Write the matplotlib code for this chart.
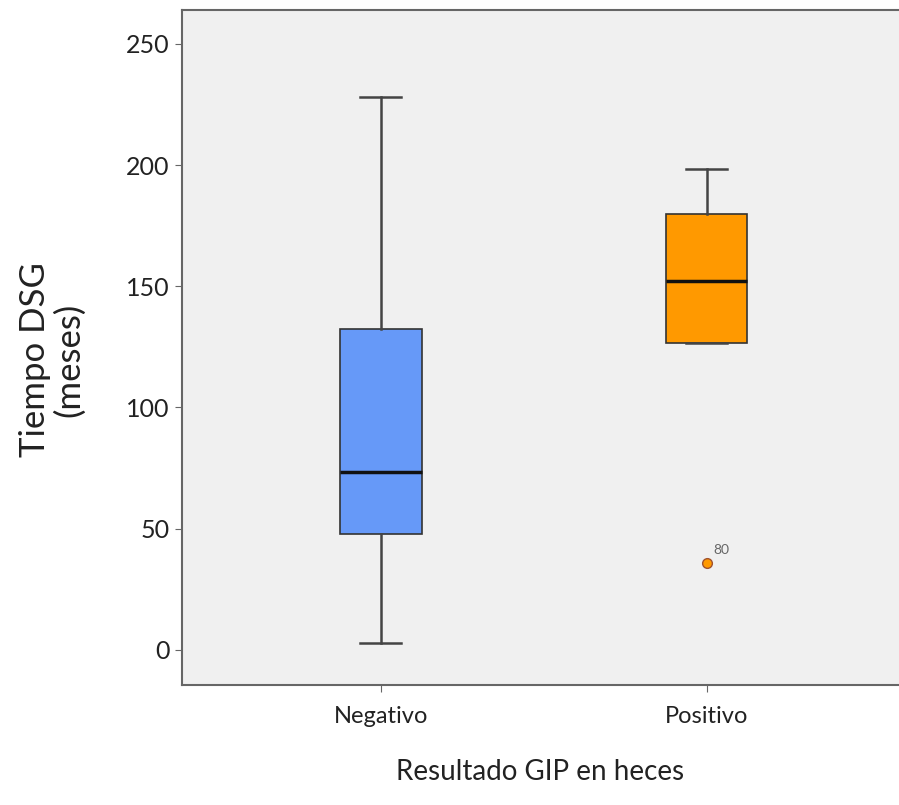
import matplotlib
matplotlib.use("Agg")
import matplotlib.pyplot as plt

categories = ["Negativo", "Positivo"]
whislo = [3, 126.5]
q1 = [48, 126.5]
med = [73.5, 152]
q3 = [132.5, 180]
whishi = [228, 198.5]
fliers = [[], [36]]
flier_labels = [[], ["80"]]
colors = ["#6699F8", "#FF9900"]
yticks = [0, 50, 100, 150, 200, 250]

plt.rcParams['font.family'] = ['Lato', 'DejaVu Sans']

fig = plt.figure(figsize=(8.99, 8.05), dpi=100)
ax = fig.add_axes([182/899, 1-685/805, 1-182/899, (685-10)/805])
ax.set_facecolor("#F0F0F0")

stats = []
for i, c in enumerate(categories):
    stats.append(dict(label=c, whislo=whislo[i], q1=q1[i], med=med[i], q3=q3[i],
                      whishi=whishi[i], fliers=fliers[i]))
pos = [1, 2]
bp = ax.bxp(stats, positions=pos, widths=0.25, patch_artist=True, showfliers=True,
            boxprops=dict(linewidth=1.2, edgecolor="#333333"),
            medianprops=dict(color="#111111", linewidth=2.5),
            whiskerprops=dict(color="#444444", linewidth=1.8),
            capprops=dict(color="#444444", linewidth=1.8),
            capwidths=0.125,
            flierprops=dict(marker="o", markerfacecolor="#FF9900", markeredgecolor="#A0522D",
                            markersize=7, markeredgewidth=1))
for patch, col in zip(bp["boxes"], colors):
    patch.set_facecolor(col)

for i, labs in enumerate(flier_labels):
    for v, lab in zip(fliers[i], labs):
        ax.annotate(lab, (pos[i], v), xytext=(5, 6), textcoords="offset points",
                    fontsize=10, color="#666666")

ax.set_xlim(0.39, 2.59)
ax.set_ylim(-14.5, 264)
ax.set_yticks(yticks)
ax.set_xticks(pos)
ax.set_xticklabels(categories)
ax.tick_params(axis="y", labelsize=18, length=5, color="#666666", labelcolor="#222222", pad=4)
ax.tick_params(axis="x", labelsize=17, length=5, color="#666666", labelcolor="#222222", pad=10)
for s in ["left", "bottom", "top"]:
    ax.spines[s].set_color("#666666")
    ax.spines[s].set_linewidth(1.5)
ax.spines["right"].set_visible(False)

ax.set_ylabel("Tiempo DSG\n(meses)", fontsize=25, color="#222222", linespacing=1.05, va="center")
ax.yaxis.set_label_coords((52-182)/717, (685-360)/675)
ax.set_xlabel("Resultado GIP en heces", fontsize=20, color="#222222", va="center")
ax.xaxis.set_label_coords(0.5, (685-772)/675)

fig.savefig("out.png", dpi=100)
